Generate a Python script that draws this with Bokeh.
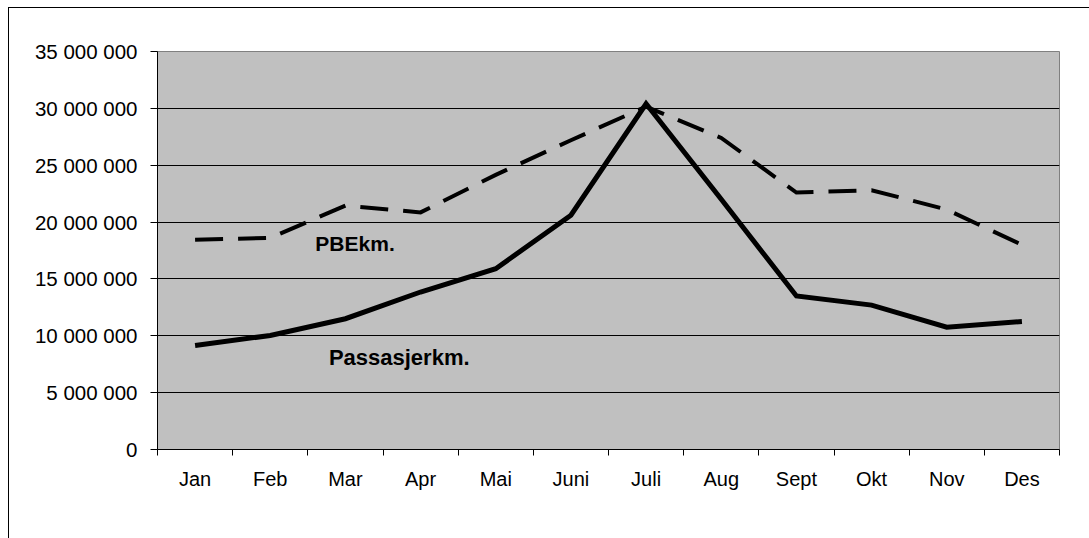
from bokeh.plotting import figure
from bokeh.models import Range1d, FixedTicker, Label, ColumnDataSource
from bokeh.embed import file_html
from bokeh.resources import INLINE

months = ["Jan", "Feb", "Mar", "Apr", "Mai", "Juni", "Juli", "Aug", "Sept", "Okt", "Nov", "Des"]
passasjerkm = [9150000, 10030000, 11500000, 13850000, 15900000, 20600000,
               30400000, 22000000, 13500000, 12700000, 10750000, 11250000]
pbekm = [18450000, 18600000, 21450000, 20850000, 24150000, 27200000,
         30150000, 27400000, 22600000, 22800000, 21100000, 18000000]
y_ticks = [0, 5000000, 10000000, 15000000, 20000000, 25000000, 30000000, 35000000]
series_labels = ["PBEkm.", "Passasjerkm."]

x_centers = [i + 0.5 for i in range(len(months))]
x_bounds = list(range(len(months) + 1))

src = ColumnDataSource(dict(x=x_centers, pas=passasjerkm, pbe=pbekm))

p = figure(width=1080, height=530, output_backend="svg", toolbar_location=None,
           x_range=Range1d(0, len(months)), y_range=Range1d(0, y_ticks[-1]),
           min_border_left=148, min_border_right=30, min_border_top=43, min_border_bottom=89)
# chart-area border (left/top visible; right/bottom fall outside the window)
p.margin = (8, 0, 0, 9)
p.styles = {"outline": "1px solid #000000", "outline-offset": "0px"}

p.background_fill_color = "#C0C0C0"
p.border_fill_color = "#FFFFFF"
p.outline_line_color = "#808080"
p.outline_line_width = 1

# grid
p.xgrid.visible = False
p.ygrid.ticker = FixedTicker(ticks=y_ticks[1:-1])
p.ygrid.grid_line_color = "#000000"
p.ygrid.grid_line_width = 1

# y axis
p.yaxis.ticker = FixedTicker(ticks=y_ticks)
p.yaxis.major_label_overrides = {v: f"{v:,}".replace(",", " ") for v in y_ticks}
p.yaxis.axis_line_color = "#000000"
p.yaxis.major_tick_line_color = "#000000"
p.yaxis.major_tick_out = 7
p.yaxis.major_tick_in = 0
p.yaxis.minor_tick_line_color = None
p.yaxis.major_label_standoff = 13
p.yaxis.major_label_text_font = "Liberation Sans"
p.yaxis.major_label_text_font_size = "20.5px"
p.yaxis.major_label_text_color = "#000000"

# x axis
p.xaxis.ticker = FixedTicker(ticks=x_centers, minor_ticks=x_bounds)
p.xaxis.major_label_overrides = {x: m for x, m in zip(x_centers, months)}
p.xaxis.axis_line_color = "#000000"
p.xaxis.major_tick_line_color = None
p.xaxis.major_tick_out = 6
p.xaxis.major_tick_in = 0
p.xaxis.minor_tick_line_color = "#000000"
p.xaxis.minor_tick_out = 6
p.xaxis.minor_tick_in = 0
p.xaxis.major_label_standoff = 12
p.xaxis.major_label_text_font = "Liberation Sans"
p.xaxis.major_label_text_font_size = "20px"
p.xaxis.major_label_text_color = "#000000"

# lines
p.line("x", "pbe", source=src, line_color="#000000", line_width=4,
       line_dash="28 15", line_join="miter")
p.line("x", "pas", source=src, line_color="#000000", line_width=5,
       line_join="miter")

# series labels
p.add_layout(Label(x=2.10, y=18100000, text=series_labels[0], text_font="Liberation Sans",
                   text_font_size="21px", text_font_style="bold", text_color="#000000",
                   text_baseline="alphabetic"))
p.add_layout(Label(x=2.28, y=8100000, text=series_labels[1], text_font="Liberation Sans",
                   text_font_size="22px", text_font_style="bold", text_color="#000000",
                   text_baseline="alphabetic"))

open("out.html", "w").write(file_html(p, INLINE))
